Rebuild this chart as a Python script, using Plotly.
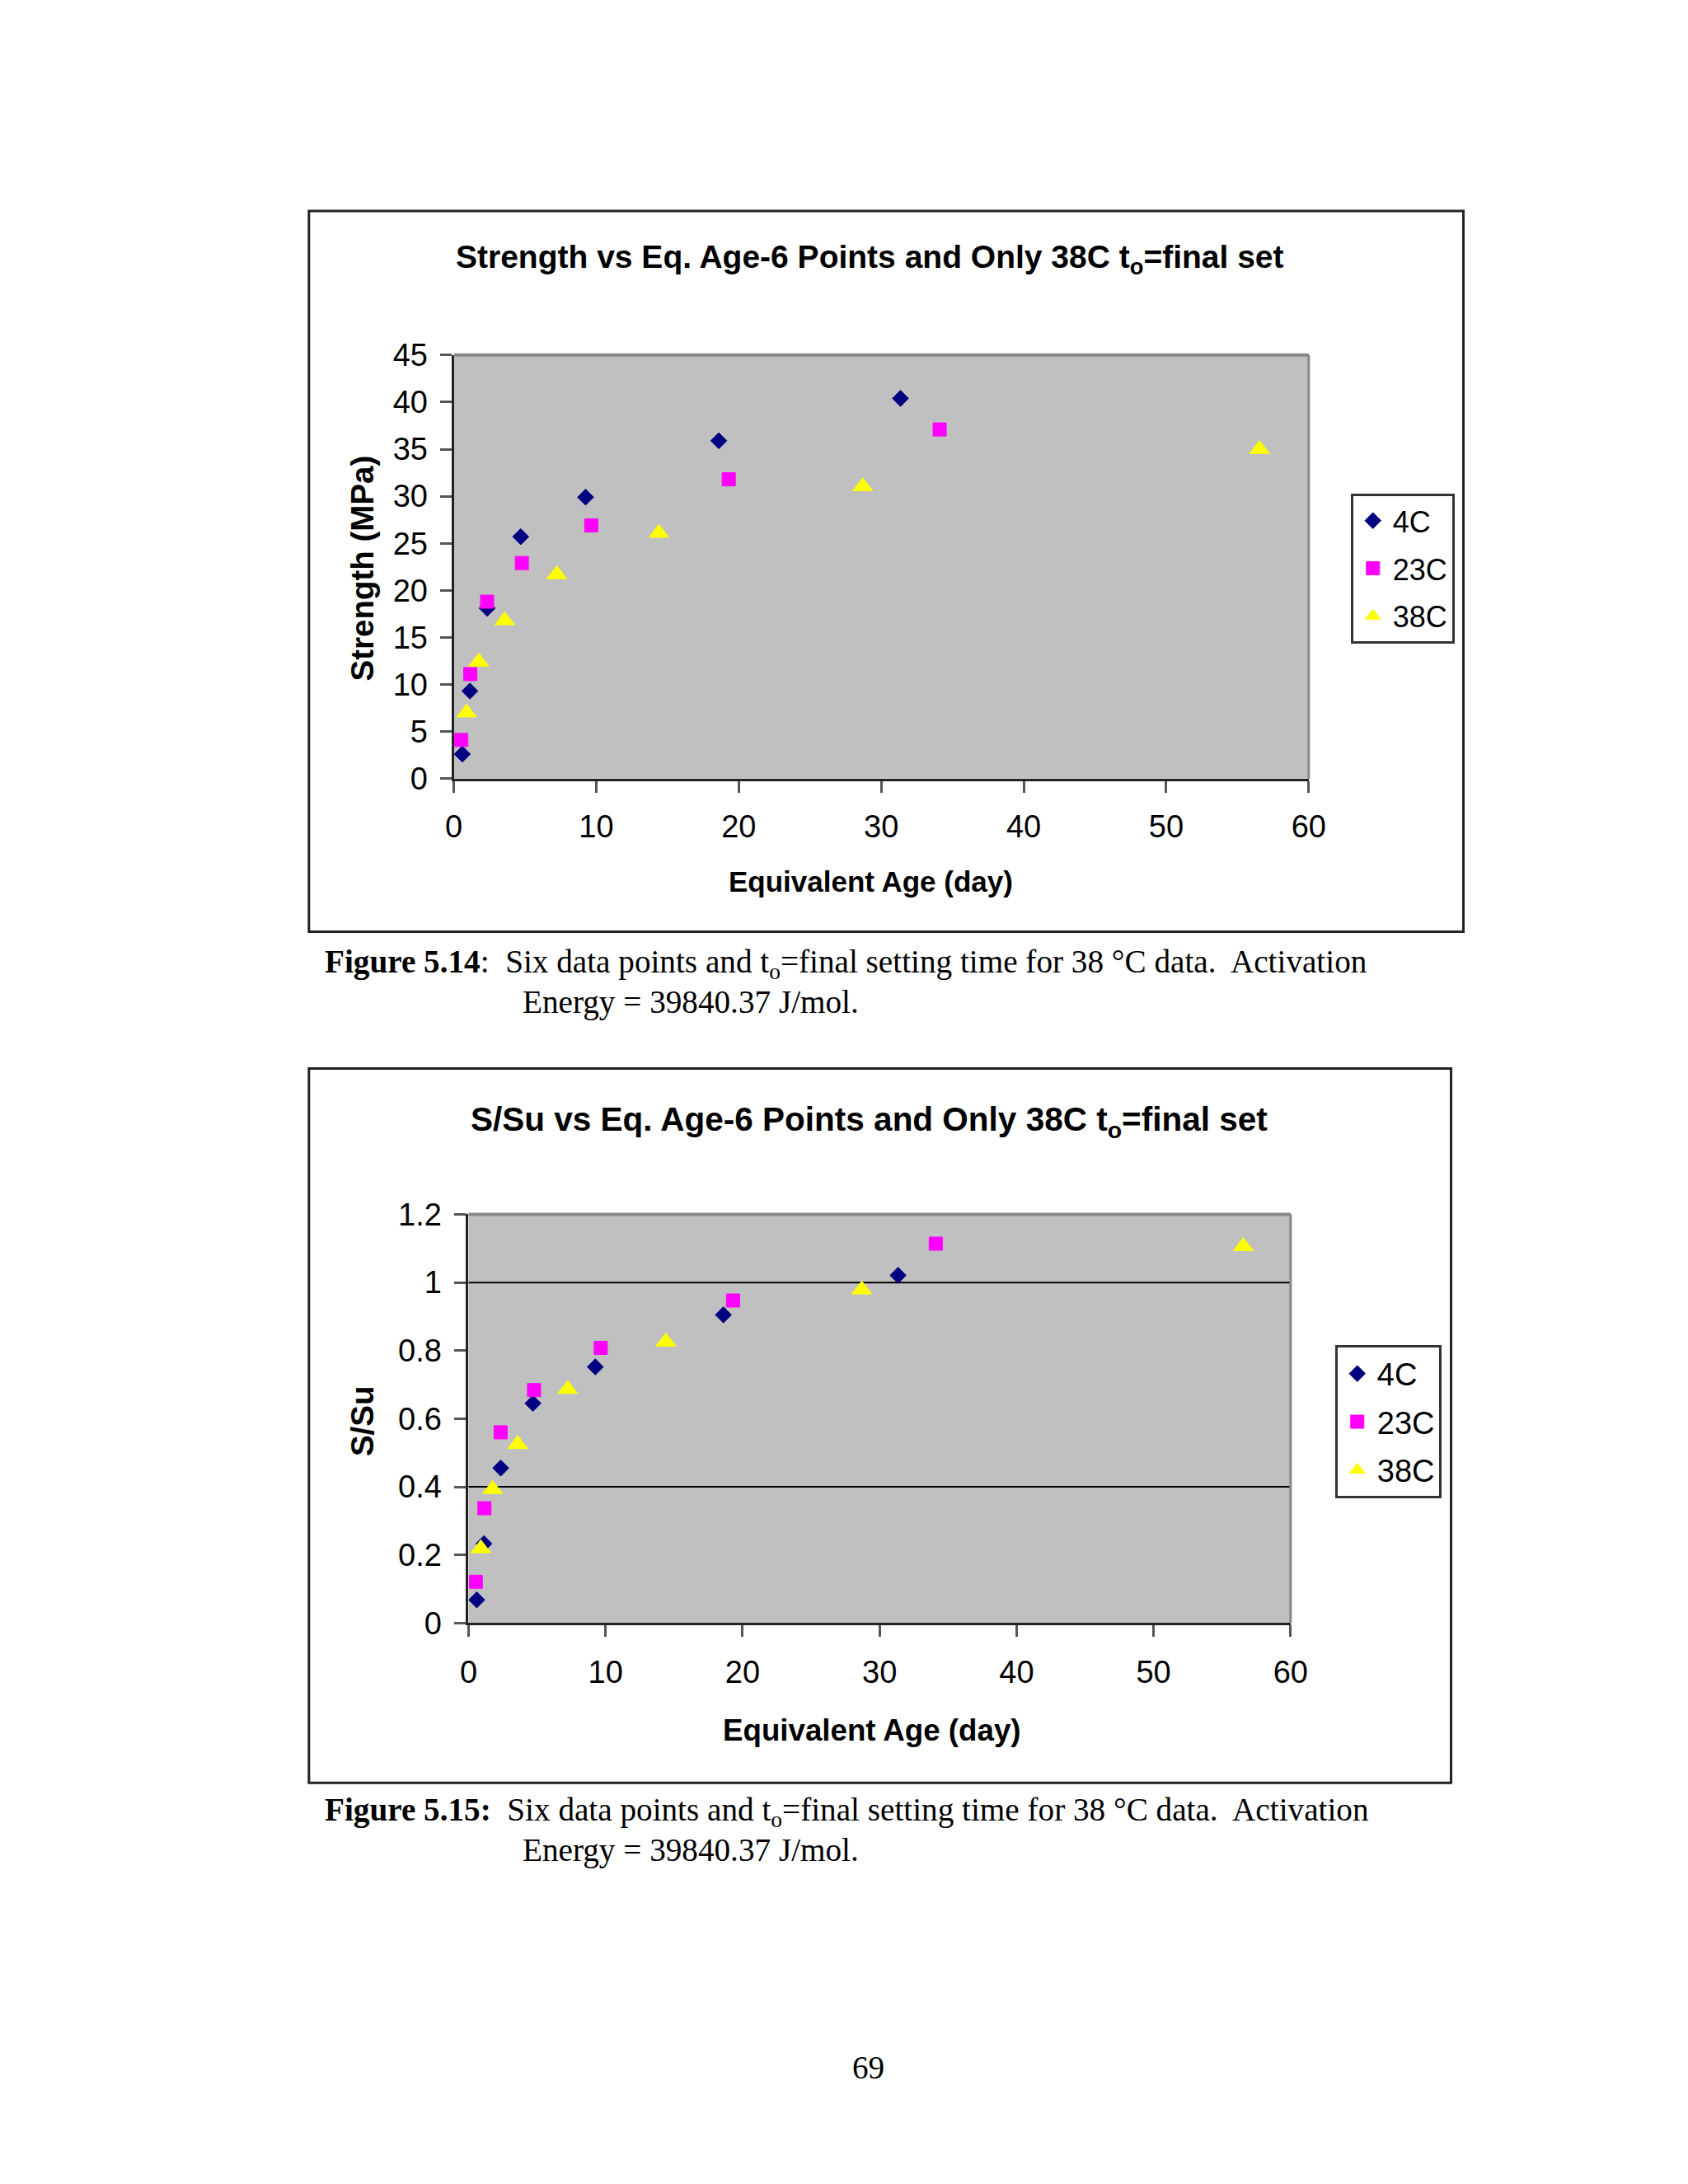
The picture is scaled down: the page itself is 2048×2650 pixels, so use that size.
import plotly.graph_objects as go

W, H = 2048, 2650

# equivalent age (day) per curing temperature
AGE_4C = [0.6, 1.13, 2.35, 4.7, 9.25, 18.6, 31.35]
AGE_23C = [0.53, 1.16, 2.34, 4.78, 9.65, 19.3, 34.1]
AGE_38C = [0.9, 1.76, 3.58, 7.23, 14.4, 28.7, 56.55]

# strength (MPa)
STR_4C = [2.6, 9.3, 18.1, 25.7, 29.9, 35.9, 40.4]
STR_23C = [4.1, 11.1, 18.8, 22.9, 26.9, 31.8, 37.1]
STR_38C = [7.0, 12.4, 16.8, 21.7, 26.1, 31.05, 35.0]

# relative strength S/Su
SSU_4C = [0.068, 0.233, 0.455, 0.645, 0.752, 0.905, 1.021]
SSU_23C = [0.121, 0.337, 0.56, 0.684, 0.808, 0.947, 1.114]
SSU_38C = [0.219, 0.393, 0.525, 0.687, 0.826, 0.979, 1.106]

SERIES = ["4C", "23C", "38C"]
GRID_LEVELS_SSU = [0.4, 1.0]

SANS = "Liberation Sans"
SERIF = "Liberation Serif"

STYLE = {
    "4C": dict(symbol="diamond", color="#000080", size=15),
    "23C": dict(symbol="square", color="#FF00FF", size=16),
    "38C": dict(symbol="triangle-up", color="#FFFF00", size=21),
}

# the page photo comes out slightly shifted and shrunk, so page
# positions (in pixels) are mapped back to figure coordinates here
OX, OY, KX, KY = 18.6, 27.0, 0.986, 0.9845


def px(x):
    return (x - OX) / KX / W


def py(y):
    return 1 - (y - OY) / KY / H


fig = go.Figure()

panels = [
    ("x", "y", "legend", [AGE_4C, AGE_23C, AGE_38C], [STR_4C, STR_23C, STR_38C]),
    ("x2", "y2", "legend2", [AGE_4C, AGE_23C, AGE_38C], [SSU_4C, SSU_23C, SSU_38C]),
]
for xa, ya, leg, xs, ys in panels:
    for name, xv, yv in zip(SERIES, xs, ys):
        st = STYLE[name]
        fig.add_trace(go.Scatter(
            x=xv, y=yv, mode="markers", name=name, xaxis=xa, yaxis=ya,
            legend=leg, legendgroup=leg + name,
            marker=dict(symbol=st["symbol"], color=st["color"], size=st["size"],
                        line=dict(width=1, color=st["color"])),
        ))

axis_common = dict(
    showgrid=False, zeroline=False, showline=True, linecolor="#222", linewidth=3,
    ticks="outside", ticklen=14, tickwidth=3, tickcolor="#555",
    tickfont=dict(family=SANS, size=38, color="black"),
)

legend_common = dict(
    xanchor="left", yanchor="top",
    bgcolor="white", bordercolor="#333", borderwidth=3,
    traceorder="grouped", itemwidth=38,
)

fig.update_layout(
    width=W, height=H,
    margin=dict(l=0, r=0, t=0, b=0),
    paper_bgcolor="white", plot_bgcolor="#C0C0C0",
    showlegend=True,
    xaxis=dict(domain=[px(551), px(1590)], range=[0, 60], dtick=10, anchor="y",
               ticklabelstandoff=9, **axis_common),
    yaxis=dict(domain=[py(943), py(429)], range=[0, 45], dtick=5, anchor="x",
               ticklabelstandoff=7, **axis_common),
    xaxis2=dict(domain=[px(569), px(1568)], range=[0, 60], dtick=10, anchor="y2",
                ticklabelstandoff=10, **axis_common),
    yaxis2=dict(domain=[py(1968), py(1472)], range=[0, 1.2], dtick=0.2, anchor="x2",
                ticklabelstandoff=8, **axis_common),
    legend=dict(x=px(1641), y=py(597), tracegroupgap=8,
                font=dict(family=SANS, size=36, color="black"), **legend_common),
    legend2=dict(x=px(1622), y=py(1631), tracegroupgap=6,
                 font=dict(family=SANS, size=38, color="black"), **legend_common),
)

# chart frames
for x0, y0, x1, y1 in [(375, 254, 1778, 1129), (375, 1295, 1763, 2162)]:
    fig.add_shape(type="rect", xref="paper", yref="paper",
                  x0=px(x0), x1=px(x1), y0=py(y1), y1=py(y0),
                  line=dict(color="#222", width=3), layer="below")

# gray top/right border of the plot areas
for xa, ya in [("x", "y"), ("x2", "y2")]:
    fig.add_shape(type="line", xref=xa + " domain", yref=ya + " domain",
                  x0=0, x1=1, y0=1, y1=1, line=dict(color="#888", width=4))
    fig.add_shape(type="line", xref=xa + " domain", yref=ya + " domain",
                  x0=1, x1=1, y0=0, y1=1, line=dict(color="#888", width=3))

for lvl in GRID_LEVELS_SSU:
    fig.add_shape(type="line", xref="x2 domain", yref="y2", x0=0, x1=1,
                  y0=lvl, y1=lvl, line=dict(color="black", width=2), layer="below")


def sans(size):
    return dict(family=SANS, size=size, color="black")


cap_font = dict(family=SERIF, size=39.2, color="black")

annotations = [
    (1057, 313, "<b>Strength vs Eq. Age-6 Points and Only 38C t<sub>o</sub>=final set</b>", sans(39), 0),
    (440, 688, "<b>Strength (MPa)</b>", sans(38.5), -90),
    (1058, 1068, "<b>Equivalent Age (day)</b>", sans(35), 0),
    (1056, 1359, "<b>S/Su vs Eq. Age-6 Points and Only 38C t<sub>o</sub>=final set</b>", sans(40.5), 0),
    (440, 1723, "<b>S/Su</b>", sans(38.5), -90),
    (1059, 2098, "<b>Equivalent Age (day)</b>", sans(36.7), 0),
    (1055, 2507, "69", cap_font, 0),
]
for x, y, text, font, ang in annotations:
    fig.add_annotation(xref="paper", yref="paper", x=px(x), y=py(y), text=text,
                       showarrow=False, font=font, textangle=ang,
                       xanchor="center", yanchor="middle")

captions = [
    (392, 1168, "<b>Figure 5.14</b>:\u00a0 Six data points and t<sub>o</sub>=final setting time for 38 \u00b0C data.\u00a0 Activation"),
    (633, 1214, "Energy = 39840.37 J/mol."),
    (392, 2197, "<b>Figure 5.15:</b>\u00a0 Six data points and t<sub>o</sub>=final setting time for 38 \u00b0C data.\u00a0 Activation"),
    (633, 2244, "Energy = 39840.37 J/mol."),
]
for x, y, text in captions:
    fig.add_annotation(xref="paper", yref="paper", x=px(x), y=py(y), text=text,
                       showarrow=False, font=cap_font, xanchor="left", yanchor="middle")

fig.write_html("out.html")
